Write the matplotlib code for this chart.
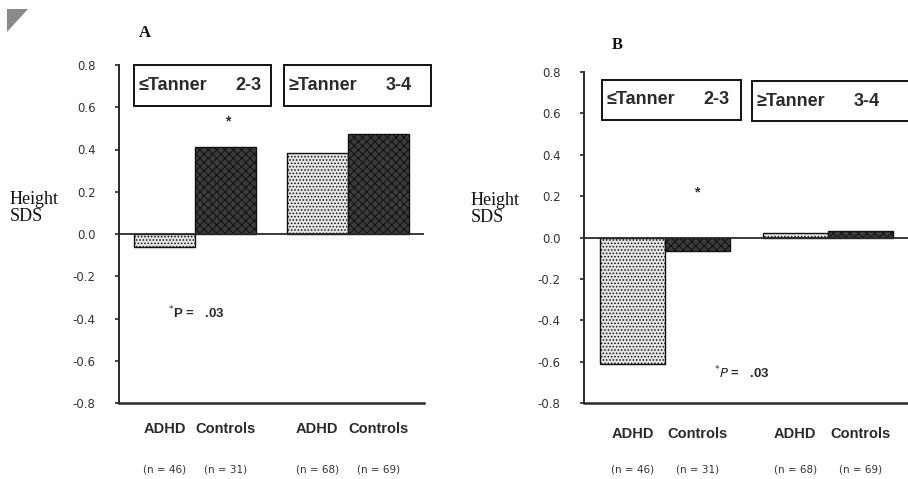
import matplotlib
import matplotlib.pyplot as plt
from matplotlib.patches import Rectangle, Polygon
import numpy as np

matplotlib.pyplot.switch_backend('Agg')

W, H = 908, 479

# data
groups = ['ADHD', 'Controls', 'ADHD', 'Controls']
n_labels = ['(n = 46)', '(n = 31)', '(n = 68)', '(n = 69)']
stages = [('\u2264Tanner', '2-3'), ('\u2265Tanner', '3-4')]
height_sds_a = [-0.06, 0.41, 0.385, 0.475]
height_sds_b = [-0.61, -0.065, 0.02, 0.03]
yticks = [0.8, 0.6, 0.4, 0.2, 0.0, -0.2, -0.4, -0.6, -0.8]
positions = [0, 1, 2.5, 3.5]

sans = ['Liberation Sans', 'DejaVu Sans']
wide = ['DejaVu Sans']
serif = ['Liberation Serif', 'DejaVu Serif']
ink = '#2a2a2a'
plt.rcParams['hatch.linewidth'] = 0.7


def px(x, y):
    # pixel (from top-left) to figure fraction
    return x / W, 1 - y / H


fig = plt.figure(figsize=(W / 100, H / 100), dpi=100)


def panel(left, right, top, bottom, values, letter, letter_xy, label_xy,
          boxes, star_xy, p_xy, p_italic, lab_off):
    x0, y1 = px(left, top)
    x1, y0 = px(right, bottom)
    ax = fig.add_axes([x0, y0, x1 - x0, y1 - y0])
    colors = ['#e4e4e4', '#3c3c3c', '#e4e4e4', '#3c3c3c']
    hatches = ['.....', 'xxxx', '.....', 'xxxx']
    for pos, val, c, h in zip(positions, values, colors, hatches):
        ax.bar(pos, val, width=1.0, color=c, hatch=h, edgecolor='#111111',
               linewidth=1.0, zorder=3)
    ax.axhline(0, color=ink, lw=1.3, zorder=4)
    ax.set_xlim(-0.75, 4.25)
    ax.set_ylim(-0.8, 0.8)
    ax.set_yticks(yticks)
    ax.set_yticklabels(['%.1f' % t for t in yticks])
    for s in ['top', 'right']:
        ax.spines[s].set_visible(False)
    ax.spines['left'].set_color(ink)
    ax.spines['left'].set_linewidth(1.4)
    ax.spines['bottom'].set_color(ink)
    ax.spines['bottom'].set_linewidth(1.8)
    ax.tick_params(axis='y', direction='out', length=3, width=1.2,
                   color=ink, pad=14, labelsize=8.5, labelcolor='#333333')
    for lab in ax.get_yticklabels():
        lab.set_family(wide)
    ax.set_xticks([])
    ax.patch.set_alpha(0)
    trans = ax.get_xaxis_transform()
    for pos, g, n in zip(positions, groups, n_labels):
        ax.annotate(g, (pos, 0), xycoords=trans, xytext=(0, lab_off),
                    textcoords='offset points', ha='center', va='center',
                    fontsize=10.5, fontweight='bold', family=sans, color=ink)
        ax.annotate(n, (pos, 0), xycoords=trans, xytext=(0, -48),
                    textcoords='offset points', ha='center', va='center',
                    fontsize=7.5, family=wide, color='#333333')

    fig.text(*px(*letter_xy), letter, fontsize=12, fontweight='bold',
             family=serif, ha='center', va='center', color='#111111')
    fig.text(*px(*label_xy), 'Height\nSDS', fontsize=13, family=serif,
             ha='left', va='center', linespacing=1.05, color='#111111')
    for (bx0, by0, bx1, by1), (txt, rng) in zip(boxes, stages):
        fx0, fy1 = px(bx0, by0)
        fx1, fy0 = px(bx1, by1)
        fig.add_artist(Rectangle((fx0, fy0), fx1 - fx0, fy1 - fy0,
                                 transform=fig.transFigure, fc='white',
                                 ec='#111111', lw=1.4, zorder=5))
        fig.text(fx0 + 5 / W, (fy0 + fy1) / 2, txt, fontsize=13,
                 fontweight='bold', family=sans, ha='left', va='center',
                 color=ink, zorder=6)
        fig.text(fx0 + 128 / W, (fy0 + fy1) / 2, rng, fontsize=13,
                 fontweight='bold', family=sans, ha='right', va='center',
                 color=ink, zorder=6)
    fig.text(*px(*star_xy), '*', fontsize=10, fontweight='bold', family=sans,
             ha='center', va='center', color=ink)
    fig.text(*px(*p_xy), r'$^{*}$' + ('$\\it{P}$' if p_italic else 'P')
             + ' =   .03', fontsize=9.5, fontweight='bold', family=sans,
             ha='left', va='center', color=ink)
    return ax


panel(119, 424, 65, 403, height_sds_a, 'A', (145, 33), (10, 208),
      [(134, 65, 271, 106), (284, 65, 431, 106)], (228, 121), (168, 313),
      False, -19)
panel(584, 909, 72, 403, height_sds_b, 'B', (617, 45), (471, 209),
      [(602, 80, 741, 120), (752, 81, 915, 121)], (697, 192), (714, 373),
      True, -22)

# grey scan corner
fig.add_artist(Polygon([px(7, 9), px(28, 9), px(7, 32)], closed=True,
                       transform=fig.transFigure, fc='#8a8a8a', ec='none'))

plt.savefig('out.png', dpi=100)
